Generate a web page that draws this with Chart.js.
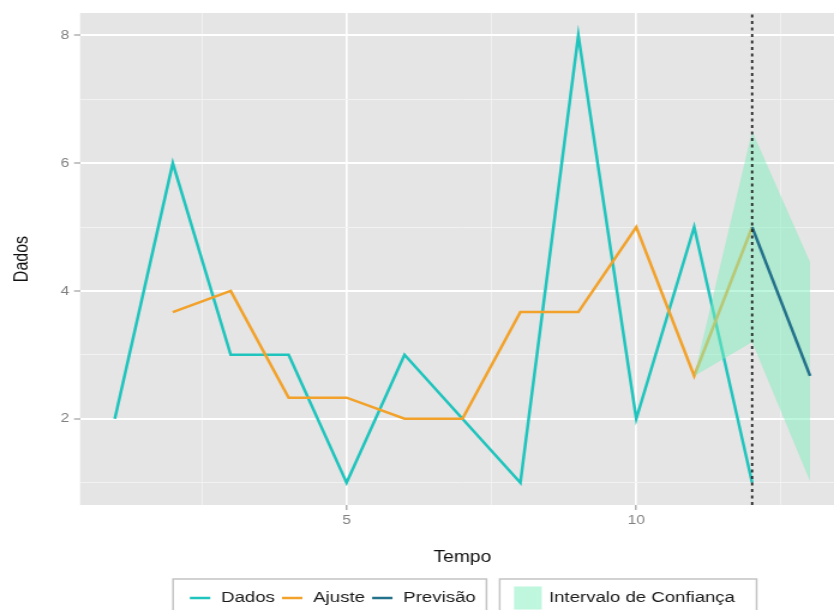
<!DOCTYPE html>
<html>
<head>
<meta charset="utf-8">
<script src="https://cdn.jsdelivr.net/npm/chart.js@4"></script>
<style>
  html, body { margin: 0; padding: 0; background: #fff; overflow: hidden }
  /* the reference image is stretched horizontally, so stretch the canvas too */
  #wrap { width: 704px; height: 610px; transform: scaleX(1.2); transform-origin: 0 0 }
</style>
</head>
<body>
<div id="wrap"><canvas id="grafico" width="704" height="610"></canvas></div>
<script>
const tempo = [1, 2, 3, 4, 5, 6, 7, 8, 9, 10, 11, 12]
const dados = [2, 6, 3, 3, 1, 3, 2, 1, 8, 2, 5, 1]
const tempoAjuste = [2, 3, 4, 5, 6, 7, 8, 9, 10, 11, 12]
const ajuste = [3.67, 4, 2.33, 2.33, 2, 2, 3.67, 3.67, 5, 2.67, 5]
const tempoPrev = [12, 13]
const previsao = [5, 2.67]
const tempoIC = [11, 12, 13]
const icSup = [2.67, 6.5, 4.45]
const icInf = [2.67, 3.2, 1.02]
const corteTempo = 12
const xLim = [0.4, 13.6]
const yLim = [0.65, 8.35]

const pts = (xs, ys) => xs.map((x, i) => ({ x, y: ys[i] }))

Chart.defaults.font.family = '"Liberation Sans", Arial, sans-serif'

const fundoPainel = {
  id: 'fundoPainel',
  beforeDraw: chart => {
    const { ctx, chartArea: a } = chart
    ctx.save()
    ctx.fillStyle = '#e5e5e5'
    ctx.fillRect(a.left, a.top, a.right - a.left, a.bottom - a.top)
    ctx.restore()
  }
}

// ggplot style legend: one box for the lines, one for the ribbon
const legendaCaixas = {
  id: 'legendaCaixas',
  afterDraw: chart => {
    const { ctx, chartArea } = chart
    const sets = chart.data.datasets
    const linhas = sets.filter(d => d.legenda === 'linha')
    const area = sets.find(d => d.legenda === 'area')
    ctx.save()
    ctx.font = '15.5px "Liberation Sans", Arial, sans-serif'
    ctx.textBaseline = 'middle'
    const linha = 17, gapTexto = 9, gapItem = 6, quad = 23
    let larg1 = 14 + 9
    linhas.forEach((d, i) => { larg1 += linha + gapTexto + ctx.measureText(d.label).width + (i ? gapItem : 0) })
    const larg2 = 12 + quad + 6 + ctx.measureText(area.label).width + 18
    const gap = 11
    let x = (chartArea.left + chartArea.right) / 2 - (larg1 + gap + larg2) / 2 + 2
    const topo = chartArea.bottom + 74
    const meio = topo + 19

    ctx.fillStyle = '#fff'
    ctx.strokeStyle = '#c4c4c4'
    ctx.lineWidth = 1.5
    ctx.fillRect(x, topo, larg1, 40)
    ctx.strokeRect(x, topo, larg1, 40)
    ctx.fillRect(x + larg1 + gap, topo, larg2, 40)
    ctx.strokeRect(x + larg1 + gap, topo, larg2, 40)

    let cx = x + 14
    linhas.forEach(d => {
      ctx.strokeStyle = d.borderColor
      ctx.lineWidth = 2.5
      ctx.beginPath()
      ctx.moveTo(cx, meio)
      ctx.lineTo(cx + linha, meio)
      ctx.stroke()
      cx += linha + gapTexto
      ctx.fillStyle = '#1a1a1a'
      ctx.fillText(d.label, cx, meio)
      cx += ctx.measureText(d.label).width + gapItem
    })

    cx = x + larg1 + gap + 12
    ctx.fillStyle = area.backgroundColor
    ctx.fillRect(cx, meio - quad / 2, quad, quad)
    ctx.fillStyle = '#1a1a1a'
    ctx.fillText(area.label, cx + quad + 6, meio)
    ctx.restore()
  }
}

// lower order is drawn on top
new Chart(document.getElementById('grafico'), {
  type: 'line',
  data: {
    datasets: [
      {
        label: 'Dados',
        legenda: 'linha',
        data: pts(tempo, dados),
        borderColor: '#1fc4bd',
        borderWidth: 2.5,
        pointRadius: 0,
        fill: false,
        order: 4
      },
      {
        label: 'Ajuste',
        legenda: 'linha',
        data: pts(tempoAjuste, ajuste),
        borderColor: '#f2a22a',
        borderWidth: 2.5,
        pointRadius: 0,
        fill: false,
        order: 3
      },
      {
        label: 'Previsão',
        legenda: 'linha',
        data: pts(tempoPrev, previsao),
        borderColor: '#23718a',
        borderWidth: 2.5,
        pointRadius: 0,
        fill: false,
        order: 1
      },
      {
        label: 'Intervalo de Confiança',
        legenda: 'area',
        data: pts(tempoIC, icSup),
        borderColor: 'transparent',
        borderWidth: 0,
        backgroundColor: 'rgba(125, 238, 190, 0.5)',
        pointRadius: 0,
        fill: '+1',
        order: 2
      },
      {
        label: 'icInf',
        data: pts(tempoIC, icInf),
        borderColor: 'transparent',
        borderWidth: 0,
        pointRadius: 0,
        fill: false,
        order: 2
      },
      {
        label: 'corte',
        data: [{ x: corteTempo, y: yLim[0] }, { x: corteTempo, y: yLim[1] }],
        borderColor: '#222',
        borderWidth: 1.8,
        borderDash: [3, 3.5],
        pointRadius: 0,
        fill: false,
        order: 0
      }
    ]
  },
  options: {
    responsive: false,
    animation: false,
    layout: { padding: { top: 13, right: 0, bottom: 43, left: 0 } },
    plugins: {
      legend: { display: false },
      tooltip: { enabled: false },
      filler: { drawTime: 'beforeDatasetDraw' }
    },
    scales: {
      x: {
        type: 'linear',
        min: xLim[0],
        max: xLim[1],
        afterFit: s => { s.height = 62 },
        border: { display: false },
        grid: {
          color: c => c.tick && c.tick.value % 5 === 0 ? '#ffffff' : '#f2f2f2',
          lineWidth: c => c.tick && c.tick.value % 5 === 0 ? 1.7 : 0.9,
          tickColor: c => c.tick && c.tick.value % 5 === 0 ? '#8a8a8a' : 'transparent',
          tickLength: 5,
          tickWidth: 1
        },
        ticks: {
          stepSize: 2.5,
          includeBounds: false,
          autoSkip: false,
          maxRotation: 0,
          padding: 3,
          color: '#808080',
          font: { size: 13 },
          callback: v => v % 5 === 0 ? v : ''
        },
        title: {
          display: true,
          text: 'Tempo',
          color: '#111',
          font: { size: 16 },
          padding: { top: 0, bottom: 0 }
        }
      },
      y: {
        min: yLim[0],
        max: yLim[1],
        afterFit: s => { s.width = 66.7 },
        border: { display: false },
        grid: {
          color: c => c.tick && c.tick.value % 2 === 0 ? '#ffffff' : '#f2f2f2',
          lineWidth: c => c.tick && c.tick.value % 2 === 0 ? 2 : 1,
          tickColor: c => c.tick && c.tick.value % 2 === 0 ? '#8a8a8a' : 'transparent',
          tickLength: 5,
          tickWidth: 1
        },
        ticks: {
          stepSize: 1,
          includeBounds: false,
          autoSkip: false,
          padding: 4,
          color: '#808080',
          font: { size: 13 },
          callback: v => v % 2 === 0 ? v : ''
        },
        title: {
          display: true,
          text: 'Dados',
          color: '#111',
          font: { size: 16 },
          padding: { top: 9, bottom: 0 }
        }
      }
    }
  },
  plugins: [fundoPainel, legendaCaixas]
})
</script>
</body>
</html>
